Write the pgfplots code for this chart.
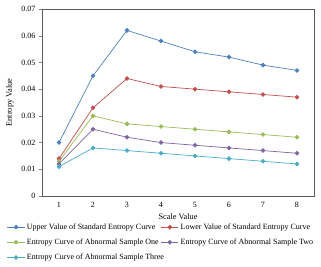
\documentclass[border=0pt]{standalone}
\usepackage{fontspec}
\setmainfont{Liberation Serif}
\usepackage{pgfplots}
\pgfplotsset{compat=1.18}
\definecolor{cA}{HTML}{4F81BD}
\definecolor{cB}{HTML}{C0504D}
\definecolor{cC}{HTML}{9BBB59}
\definecolor{cD}{HTML}{8064A2}
\definecolor{cE}{HTML}{4BACC6}
\begin{document}
\begin{tikzpicture}
\path[use as bounding box] (-42pt,-70pt) rectangle (279pt,196pt);
\begin{axis}[
  at={(0,0)}, anchor=south west,
  scale only axis, width=272pt, height=187pt,
  font=\fontsize{8.3}{10}\selectfont,
  tick label style={font=\fontsize{8}{9.5}\selectfont},
  /pgf/number format/assume math mode=true,
  xmin=0.5, xmax=8.5, ymin=0, ymax=0.07,
  xtick={1,...,8}, major x tick style={draw=none},
  extra x ticks={0.5,1.5,...,8.5}, extra x tick labels={},
  extra x tick style={tick style={draw=black, thin}, tick align=outside, major tick length=3pt},
  ytick={0,0.01,...,0.07},
  yticklabels={0,0.01,0.02,0.03,0.04,0.05,0.06,0.07},
  tick align=outside, tick pos=left, major tick length=3pt,
  axis line style={draw=gray!70!black},
  xlabel={Scale Value}, ylabel={Entropy Value},
  xlabel style={yshift=7pt},
  ylabel style={yshift=1pt},
  scaled y ticks=false,
  every axis plot/.append style={line width=0.7pt, mark=*, mark size=1.9pt},
  legend columns=2,
  legend cell align=left,
  legend style={draw=none, fill=none, at={(-0.14,-0.125)}, anchor=north west,
    font=\fontsize{8}{9.5}\selectfont, row sep=4pt,
    /tikz/every even column/.append style={column sep=0pt}},
]
\addplot[color=cA, mark options={fill=cA}] coordinates {(1,0.020)(2,0.045)(3,0.062)(4,0.058)(5,0.054)(6,0.052)(7,0.049)(8,0.047)};
\addlegendentry{\makebox[132pt][l]{Upper Value of Standard Entropy Curve}}
\addplot[color=cB, mark options={fill=cB}] coordinates {(1,0.014)(2,0.033)(3,0.044)(4,0.041)(5,0.040)(6,0.039)(7,0.038)(8,0.037)};
\addlegendentry{Lower Value of Standard Entropy Curve}
\addplot[color=cC, mark options={fill=cC}] coordinates {(1,0.013)(2,0.030)(3,0.027)(4,0.026)(5,0.025)(6,0.024)(7,0.023)(8,0.022)};
\addlegendentry{\makebox[132pt][l]{Entropy Curve of Abnormal Sample One}}
\addplot[color=cD, mark options={fill=cD}] coordinates {(1,0.012)(2,0.025)(3,0.022)(4,0.020)(5,0.019)(6,0.018)(7,0.017)(8,0.016)};
\addlegendentry{Entropy Curve of Abnormal Sample Two}
\addplot[color=cE, mark options={fill=cE}] coordinates {(1,0.011)(2,0.018)(3,0.017)(4,0.016)(5,0.015)(6,0.014)(7,0.013)(8,0.012)};
\addlegendentry{\makebox[132pt][l]{Entropy Curve of Abnormal Sample Three}}
\end{axis}
\end{tikzpicture}
\end{document}
